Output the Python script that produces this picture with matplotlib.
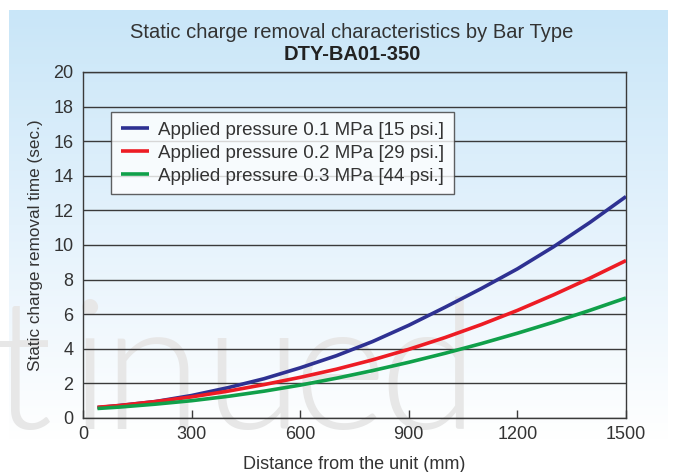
import numpy as np
import matplotlib.pyplot as plt
from matplotlib.colors import LinearSegmentedColormap

# =========================
# Data
# =========================
distance = [40, 100, 200, 300, 400, 500, 600, 700, 800, 900,
            1000, 1100, 1200, 1300, 1400, 1500]   # mm

time_01mpa = [0.60, 0.72, 0.95, 1.30, 1.75, 2.27, 2.90, 3.60, 4.42, 5.36,
              6.40, 7.48, 8.62, 9.90, 11.30, 12.80]
time_02mpa = [0.62, 0.72, 0.95, 1.22, 1.55, 1.93, 2.35, 2.82, 3.36, 3.97,
              4.65, 5.40, 6.22, 7.12, 8.08, 9.10]
time_03mpa = [0.55, 0.63, 0.80, 1.00, 1.25, 1.55, 1.90, 2.30, 2.74, 3.22,
              3.74, 4.30, 4.90, 5.54, 6.22, 6.94]

labels = ["Applied pressure 0.1 MPa [15 psi.]",
          "Applied pressure 0.2 MPa [29 psi.]",
          "Applied pressure 0.3 MPa [44 psi.]"]
colors = ["#2e3192", "#ed1c24", "#10a04a"]

x_ticks = [0, 300, 600, 900, 1200, 1500]
y_ticks = [0, 2, 4, 6, 8, 10, 12, 14, 16, 18, 20]

plt.rcParams["font.family"] = ["Liberation Sans", "DejaVu Sans"]

W, H = 680, 472
fig = plt.figure(figsize=(W / 100, H / 100), dpi=100)

# =========================
# Background panel (light blue gradient) + watermark
# =========================
bg = fig.add_axes([0, 0, 1, 1], zorder=-1)
bg.set_xlim(0, W)
bg.set_ylim(H, 0)
bg.axis("off")
cmap = LinearSegmentedColormap.from_list("bg", ["#c9e6f8", "#e4f2fc", "#ffffff"])
grad = np.linspace(0, 1, 256).reshape(-1, 1)
bg.imshow(grad, cmap=cmap, aspect="auto", extent=[9, 668, 440, 10])

# faded "...tinued" watermark, letters placed one by one
for ch, xpos in zip("tinued", [-10, 70, 102, 203, 293, 378]):
    bg.text(xpos, 429, ch, fontsize=130, color="#e7e7e7", ha="left", va="baseline",
            family=["Lato", "Liberation Sans"], fontweight=300)

# =========================
# Main plot
# =========================
ax = fig.add_axes([83 / W, 1 - 418 / H, (626 - 83) / W, (418 - 72) / H])
ax.patch.set_alpha(0)

for y, c, lab in zip([time_01mpa, time_02mpa, time_03mpa], colors, labels):
    ax.plot(distance, y, color=c, lw=2.6, label=lab, solid_capstyle="butt", zorder=3)

ax.set_xlim(0, 1500)
ax.set_ylim(0, 20)
ax.set_xticks(x_ticks)
ax.set_yticks(y_ticks)
ax.yaxis.grid(True, color="#3a3a3a", lw=1.0)
ax.set_axisbelow(True)
ax.tick_params(axis="x", direction="in", length=6, width=1, color="#3a3a3a",
               labelsize=13, labelcolor="#333333", pad=6)
ax.tick_params(axis="y", length=0, labelsize=13, labelcolor="#333333", pad=7)
for s in ax.spines.values():
    s.set_color("#3a3a3a")
    s.set_linewidth(1.0)

ax.set_xlabel("Distance from the unit (mm)", fontsize=13, color="#333333", labelpad=9)
ax.set_ylabel("Static charge removal time (sec.)", fontsize=12.3, color="#333333", labelpad=7)

leg = ax.legend(loc="upper left", bbox_to_anchor=(0.052, 0.884), fontsize=13.5,
                frameon=True, fancybox=False, edgecolor="#3a3a3a",
                handlelength=1.5, handletextpad=0.5, borderpad=0.5,
                labelspacing=0.32, borderaxespad=0)
leg.get_frame().set_linewidth(1.0)
for t in leg.get_texts():
    t.set_color("#333333")

fig.text(352 / W, 1 - 32 / H, "Static charge removal characteristics by Bar Type",
         ha="center", va="center", fontsize=14.5, color="#333333")
fig.text(352 / W, 1 - 55 / H, "DTY-BA01-350",
         ha="center", va="center", fontsize=14.5, fontweight="bold", color="#222222")

plt.savefig("out.png", dpi=100)
